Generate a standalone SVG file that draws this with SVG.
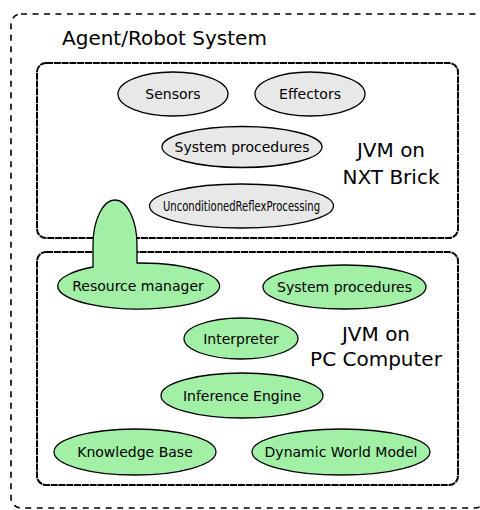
<svg xmlns="http://www.w3.org/2000/svg" width="480" height="510" viewBox="0 0 480 510">
<style>
text{font-family:"DejaVu Sans","Verdana",sans-serif;fill:#000}
.lbl{font-size:14px;text-anchor:middle}
.big{font-size:20px}
.grey{fill:#e8e8e8;stroke:#000;stroke-width:1.3}
.green{fill:#a1f0a6;stroke:#000;stroke-width:1.3}
.outer{fill:none;stroke:#000;stroke-width:1.6;stroke-dasharray:6,5.5}
.box{fill:#fff;stroke:#000;stroke-width:2;stroke-dasharray:7,0.8}
</style>
<rect width="480" height="510" fill="#fff"/>
<g id="system">
<rect class="outer" x="11" y="14" width="474" height="494" rx="10"/>
<text class="big" x="62" y="45">Agent/Robot System</text>
</g>
<g id="nxt">
<rect class="box" x="37" y="63" width="421" height="175" rx="9"/>
<text class="big" text-anchor="middle" x="391" y="157">JVM on</text>
<text class="big" text-anchor="middle" x="391" y="184">NXT Brick</text>
</g>
<g id="pc">
<rect class="box" x="37" y="252" width="421" height="233" rx="9"/>
<text class="big" text-anchor="middle" x="376" y="341">JVM on</text>
<text class="big" text-anchor="middle" x="376" y="366">PC Computer</text>
</g>
<g id="sensors"><ellipse class="grey" cx="173" cy="94" rx="55" ry="22"/><text class="lbl" x="173" y="99">Sensors</text></g>
<g id="effectors"><ellipse class="grey" cx="310" cy="94" rx="55" ry="22"/><text class="lbl" x="310" y="99">Effectors</text></g>
<g id="nxt-sysproc"><ellipse class="grey" cx="242" cy="147" rx="80" ry="20.5"/><text class="lbl" x="242" y="152">System procedures</text></g>
<g id="reflex"><ellipse class="grey" cx="241.5" cy="206" rx="92" ry="22"/><text class="lbl" x="241.5" y="211" textLength="157" lengthAdjust="spacingAndGlyphs">UnconditionedReflexProcessing</text></g>
<g id="resource-manager">
<path class="green" d="M93,267 L93,245 A22,45 0 0 1 137,245 L137,263 A81,23 0 1 1 93,267 Z"/>
<text class="lbl" x="138" y="291">Resource manager</text>
</g>
<g id="pc-sysproc"><ellipse class="green" cx="344.5" cy="287" rx="81.5" ry="22"/><text class="lbl" x="344.5" y="292">System procedures</text></g>
<g id="interpreter"><ellipse class="green" cx="241" cy="338.5" rx="57" ry="20.5"/><text class="lbl" x="241" y="343.5">Interpreter</text></g>
<g id="inference"><ellipse class="green" cx="242" cy="395.5" rx="81" ry="22.5"/><text class="lbl" x="242" y="400.5">Inference Engine</text></g>
<g id="knowledge"><ellipse class="green" cx="135" cy="452" rx="81" ry="23"/><text class="lbl" x="135" y="457">Knowledge Base</text></g>
<g id="world-model"><ellipse class="green" cx="341" cy="452" rx="89" ry="23"/><text class="lbl" x="341" y="457">Dynamic World Model</text></g>
<g id="connectors"></g>
</svg>
